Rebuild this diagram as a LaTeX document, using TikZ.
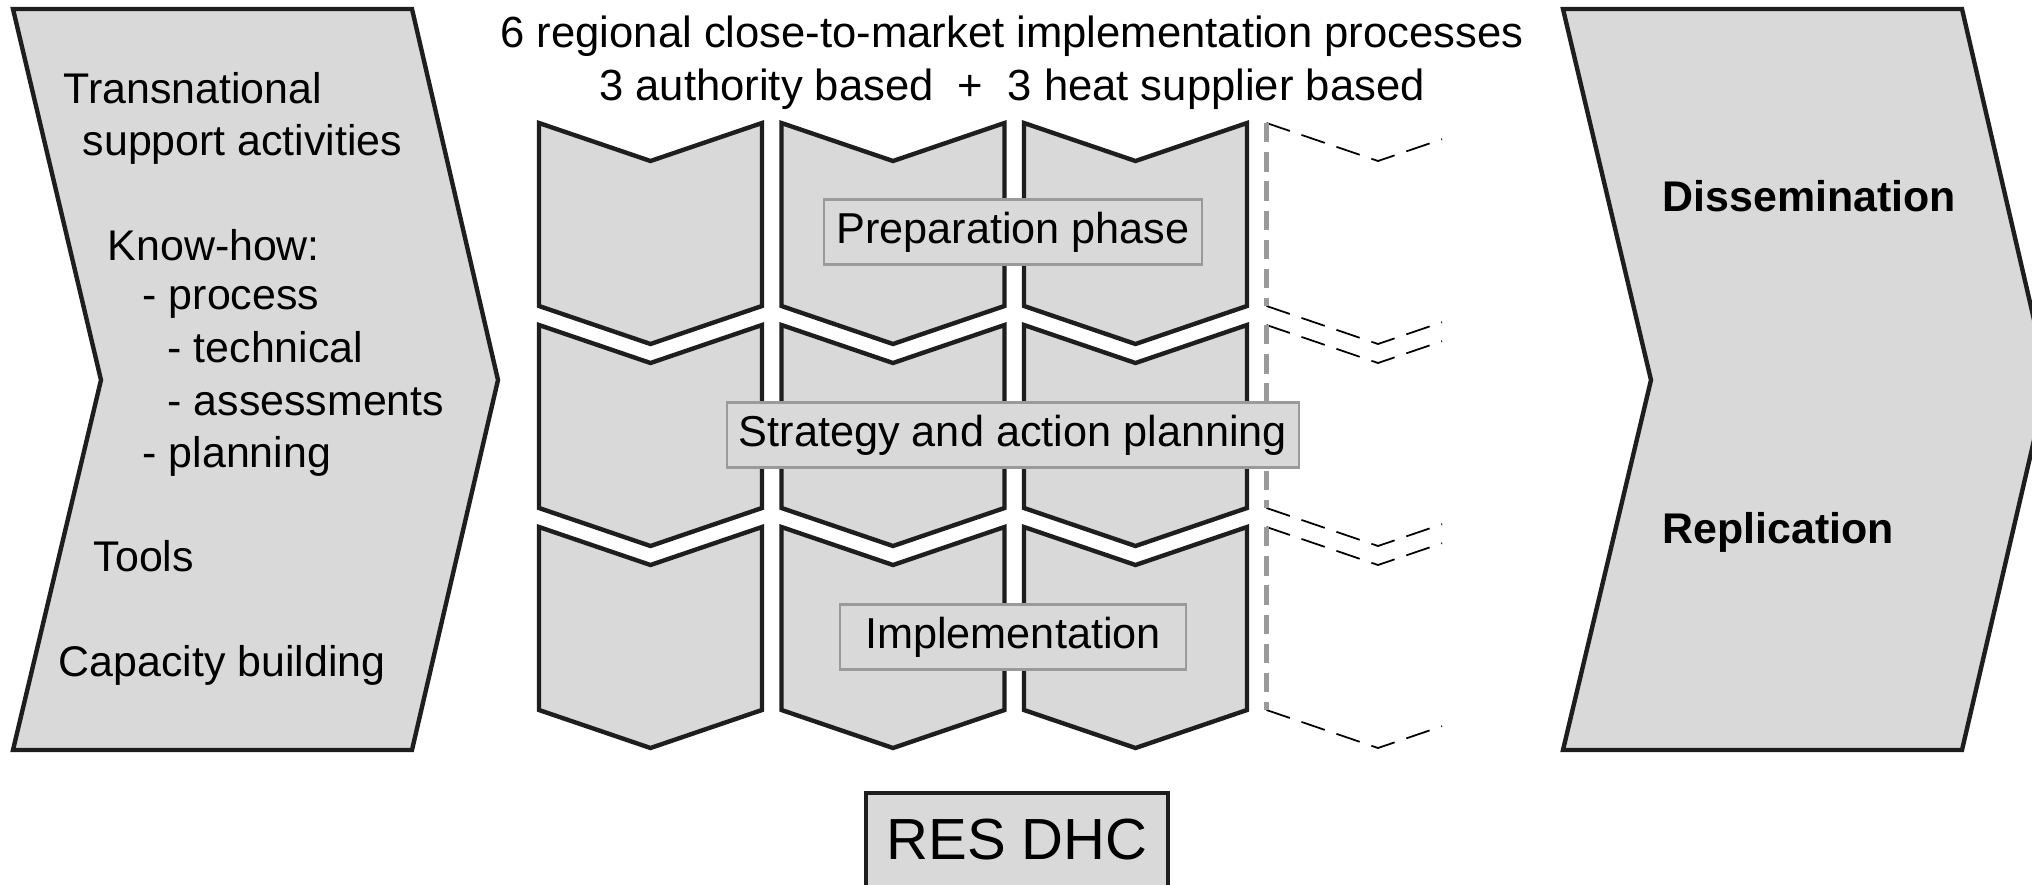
\documentclass[tikz,border=0pt]{standalone}
\usepackage{fontspec}
\setmainfont{Liberation Sans}
\usepackage{xcolor}
\usepackage{tikz}

\definecolor{panelgray}{HTML}{D9D9D9}
\definecolor{edgegray}{HTML}{1E1E1E}
\definecolor{boxline}{HTML}{9A9A9A}

\tikzset{
    chevron/.style = {draw = edgegray, fill = panelgray, line width = 1.25pt, line join = miter},
    phasebox/.style = {draw = boxline, fill = panelgray, line width = 0.7pt, inner xsep = 0.12cm,
        minimum height = 0.65cm, font = \fontsize{12.3}{14}\selectfont},
    sidetext/.style = {anchor = base west, inner sep = 0pt, font = \fontsize{12.2}{14}\selectfont},
    toptext/.style = {anchor = base, inner sep = 0pt, font = \fontsize{12.4}{14}\selectfont},
    ghostside/.style = {draw = boxline, line width = 1.4pt, dash pattern = on 5.5pt off 2.8pt},
    ghostedge/.style = {draw = black, line width = 0.5pt, dash pattern = on 7pt off 3.5pt}
}

\begin{document}
\begin{tikzpicture}[x = 0.01cm, y = -0.01cm]
    \useasboundingbox (0, 0) rectangle (2032, 884);

    \filldraw [chevron] (13, 9) -- (412, 9) -- (498, 380) -- (412, 750) -- (13, 750) -- (101, 380) -- cycle;
    \filldraw [chevron] (1563, 9) -- (1962, 9) -- (2048, 380) -- (1962, 750) -- (1563, 750) -- (1651, 380) -- cycle;

    \foreach \cx in {539, 781.5, 1024} {
        \foreach \ry in {123, 325, 527} {
            \filldraw [chevron] (\cx, \ry) -- ++(111.5, 38) -- ++(111.5, -38) -- ++(0, 183)
                -- ++(-111.5, 38) -- ++(-111.5, -38) -- cycle;
        }
    }

    \foreach \ry in {123, 325, 527} {
        \draw [ghostedge] (1266.5, \ry) -- ++(111.5, 38) -- ++(64, -21.8);
        \draw [ghostedge] (1266.5, \ry + 183) -- ++(111.5, 38) -- ++(64, -21.8);
        \draw [ghostside] (1266.5, \ry) -- ++(0, 183);
    }

    \node [toptext] (title) at (1012, 47) {6 regional close-to-market implementation processes};
    \node [toptext] (subtitle) at (1012, 100) {3 authority based~~+~~3 heat supplier based};

    \node [sidetext] (trans) at (63, 103) {Transnational};
    \node [sidetext] (support) at (82, 155) {support activities};
    \node [sidetext] (knowhow) at (107, 260) {Know-how:};
    \node [sidetext] (process) at (142, 309) {- process};
    \node [sidetext] (technical) at (167, 362) {- technical};
    \node [sidetext] (assess) at (167, 415) {- assessments};
    \node [sidetext] (planning) at (142, 467) {- planning};
    \node [sidetext] (tools) at (93, 571) {Tools};
    \node [sidetext] (capacity) at (58, 676) {Capacity building};

    \node [sidetext, font = \fontsize{12.2}{14}\selectfont\bfseries] (dissem) at (1662, 211) {Dissemination};
    \node [sidetext, font = \fontsize{12.2}{14}\selectfont\bfseries] (replic) at (1662, 543) {Replication};

    \node [phasebox] (prep) at (1013, 232) {Preparation phase};
    \node [phasebox] (strat) at (1013, 435) {Strategy and action planning};
    \node [phasebox, minimum width = 3.46cm] (impl) at (1013, 637) {Implementation};

    \node [draw = edgegray, fill = panelgray, line width = 1.3pt, minimum width = 3.02cm, minimum height = 0.94cm,
        font = \fontsize{16.5}{18}\selectfont] (resdhc) at (1017, 840) {RES DHC};
\end{tikzpicture}
\end{document}
